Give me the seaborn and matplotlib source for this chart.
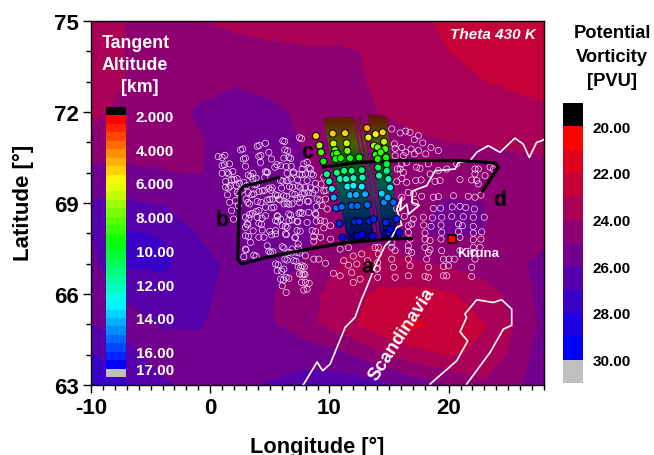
import numpy as np
import pandas as pd
import matplotlib
matplotlib.use("Agg")
import matplotlib.pyplot as plt
import seaborn as sns
from matplotlib.colors import LinearSegmentedColormap, ListedColormap, BoundaryNorm, Normalize
from matplotlib.path import Path
from matplotlib.patches import PathPatch
from matplotlib.ticker import MultipleLocator

# ---------- potential vorticity field ----------
pv_lons = [-10, -7, -4, -1, 2, 5, 8, 11, 14, 17, 20, 23, 26, 28]
pv_lats = [75, 74, 73, 72, 71, 70, 69, 68, 67, 66, 65, 64, 63]
pv_75 = [23.5, 24.02, 24.3, 24.0, 23.8, 23.6, 23.5, 23.4, 23.2, 23.1, 22.9, 22.6, 22.5, 22.5]
pv_74 = [23.5, 24.02, 24.4, 24.4, 24.3, 24.2, 24.1, 24.1, 23.9, 23.5, 23.0, 22.7, 22.6, 22.5]
pv_73 = [23.6, 24.02, 24.5, 24.7, 24.9, 24.7, 24.4, 24.2, 23.9, 23.6, 23.3, 23.0, 22.85, 22.8]
pv_72 = [23.8, 24.2, 24.6, 25.1, 25.4, 25.2, 24.8, 24.4, 24.0, 23.8, 23.6, 23.4, 23.2, 23.1]
pv_71 = [24.3, 24.6, 24.8, 24.9, 25.4, 25.4, 24.9, 24.5, 24.3, 24.1, 24.0, 23.95, 23.9, 23.9]
pv_70 = [25.3, 25.15, 25.02, 24.95, 25.3, 25.4, 25.1, 24.7, 24.5, 24.4, 24.4, 24.3, 24.2, 24.1]
pv_69 = [26.1, 26.1, 25.9, 25.6, 25.5, 25.5, 25.2, 24.7, 24.6, 24.8, 25.1, 25.0, 24.6, 24.4]
pv_68 = [26.0, 27.1, 26.9, 25.95, 25.7, 25.5, 25.2, 24.3, 24.2, 24.9, 25.15, 25.0, 24.6, 24.8]
pv_67 = [25.7, 27.1, 27.25, 26.3, 25.8, 25.4, 24.9, 23.9, 23.6, 23.8, 24.1, 24.5, 24.9, 25.2]
pv_66 = [25.6, 26.1, 26.4, 26.2, 25.7, 25.05, 24.4, 23.4, 22.85, 22.7, 22.85, 23.5, 24.5, 25.4]
pv_65 = [26.0, 25.7, 26.05, 26.1, 25.5, 25.1, 24.3, 23.4, 22.4, 21.7, 22.4, 22.95, 24.2, 25.3]
pv_64 = [27.05, 26.2, 25.7, 25.5, 25.4, 25.4, 25.6, 25.25, 24.2, 23.4, 22.9, 23.15, 24.5, 25.6]
pv_63 = [27.9, 27.1, 26.1, 25.8, 25.6, 26.1, 26.4, 26.5, 26.3, 25.6, 25.0, 24.2, 24.8, 26.0]
pv_rows = [pv_75, pv_74, pv_73, pv_72, pv_71, pv_70, pv_69, pv_68, pv_67, pv_66, pv_65, pv_64, pv_63]

pv_levels = [20, 21, 22, 23, 24, 25, 26, 27, 28, 29, 30]
pv_ticks = [20, 22, 24, 26, 28, 30]
pv_bar = [19.5, 20.5, 21.5, 22.5, 23.5, 24.5, 25.5, 26.5, 27.5, 28.5, 29.5, 30.5]

# ---------- open circles: tangent points outside the flight track ----------
ring_lon_left = [.67,1.23,2.54,3.94,4.64,6.09,7.49,
 1.0,1.62,2.79,4.08,4.92,4.22,5.14,6.26,6.59,6.18,
 1.0,1.43,1.9,2.96,5.42,4.64,3.58,3.19,5.9,6.79,6.37,6.96,6.45,7.85,8.13,7.71,8.41,
 1.29,1.79,2.26,3.58,4.58,5.9,6.79,6.45,7.99,8.49,7.71,8.13,7.32,
 1.29,1.7,2.18,2.82,3.74,5.98,6.65,7.38,7.99,8.83,9.53,
 1.45,2.26,2.68,3.19,3.66,4.36,4.92,5.48,6.18,6.87,7.71,8.27,8.83,9.53,
 1.62,2.12,3.02,3.3,3.94,4.78,5.25,5.76,6.87,7.57,8.27,8.97,9.67,
 2.35,1.79,3.52,4.08,5.34,4.64,6.45,7.49,8.27,9.39,9.81,
 2.96,3.94,4.64,5.62,6.59,7.57,8.83,
 1.96,3.1,4.08,5.48,6.87,8.13,9.25,5.9,7.29,
 2.96,4.36,5.48,6.04,6.45,7.29,8.55,9.53,10.09,
 2.96,4.08,4.5,5.48,6.31,7.15,8.69,9.25,10.09,
 3.38,4.78,6.04,7.38,8.69,
 2.96,4.92,6.18,6.87,7.38,
 2.82,3.66,5.06,6.59,7.29,7.99,
 5.48,6.26,7.01,7.71,8.69,9.11,9.67,
 5.62,6.18,7.38,
 5.9,6.37,7.49,7.85,
 6.04,7.66,7.99,
 6.37,7.85,8.13]
ring_lat_left = [70.53,70.57,70.75,70.87,70.97,71.05,71.15,
 70.23,70.29,70.45,70.54,70.67,70.34,70.45,70.75,70.5,70.48,
 69.98,70.01,70.04,70.21,70.18,70.03,69.98,69.92,70.23,70.21,70.2,69.99,69.98,70.29,70.34,70.12,70.12,
 69.71,69.76,69.8,69.79,69.85,69.74,69.79,69.74,69.96,69.96,69.93,69.74,69.76,
 69.52,69.56,69.57,69.68,69.6,69.49,69.54,69.56,69.52,69.65,69.85,
 69.27,69.35,69.43,69.35,69.3,69.4,69.49,69.27,69.24,69.3,69.3,69.35,69.43,69.4,
 69.02,69.08,69.13,68.97,69.05,69.1,69.13,69.13,68.97,69.19,69.05,69.13,69.13,
 68.91,68.75,68.66,68.75,68.86,68.86,68.99,69.02,68.69,68.91,68.8,
 68.53,68.53,68.58,68.58,68.64,68.69,68.66,
 68.47,68.31,68.33,68.42,68.44,68.36,68.42,68.47,68.4,
 68.2,68.11,68.09,68.25,68.2,68.09,68.09,68.18,68.25,
 67.92,67.87,67.87,67.98,67.98,67.87,67.89,67.87,67.81,
 67.7,67.59,67.56,67.65,67.74,
 67.48,67.41,67.52,67.48,67.52,
 67.23,67.28,67.37,67.37,67.37,67.26,
 66.99,67.15,67.1,66.93,67.15,67.15,67.01,
 66.77,66.82,66.9,
 66.49,66.55,66.66,66.66,
 66.27,66.38,66.38,
 66.05,66.13,66.16]
ring_lon_pairs = [1.0,2.72,4.1,6.25,7.66,1.2,2.95,4.25,6.5,6.75,8.3,1.55,3.4,4.8,5.6,7.0,
 2.0,3.85,4.75,6.1,7.5,8.65,1.55,2.45,3.05,3.9,4.55,5.2,6.9,7.55,8.4,9.3,2.4,3.5,4.1,5.1,5.65,
 6.4,7.1,7.9,8.6,9.7,3.15,4.25,5.0,5.85,6.6,7.3,8.15,9.2,3.3,3.85,5.15,6.2,7.75,8.9,3.25,4.35,
 5.65,6.75,7.45,8.85,9.6,3.15,4.3,5.65,6.6,7.35,8.9,3.6,5.0,6.3,7.55,8.85,3.2,5.15,6.4,7.1,
 3.0,3.85,5.25,6.8,7.5,5.7,6.45,7.2,7.9,6.0,7.6,6.15,7.7,6.6,7.95,8.3]
ring_lat_pairs = [70.5,70.78,70.9,71.03,71.12,70.26,70.48,70.57,70.72,70.47,70.15,69.96,69.88,70.0,70.26,70.02,
 69.78,69.82,70.02,69.72,69.95,69.92,69.5,69.65,69.57,69.62,69.42,69.5,69.52,69.52,69.5,69.62,69.3,69.28,69.38,69.42,69.25,
 69.22,69.28,69.32,69.33,69.42,69.02,69.02,69.12,69.1,68.96,69.15,69.06,69.1,68.62,68.72,68.84,68.97,68.66,68.88,68.5,68.5,
 68.55,68.6,68.66,68.62,68.4,68.28,68.3,68.4,68.42,68.38,68.4,68.08,68.07,68.23,68.07,68.06,67.9,67.95,67.96,67.85,
 67.45,67.25,67.39,67.35,67.35,66.96,67.12,67.08,66.9,66.75,66.88,66.46,66.63,66.52,66.64,66.35]
ring_lon_right = [15.23,15.93,16.4,16.76,17.46,17.13,17.83,18.52,
 15.45,16.07,16.85,17.46,18.08,19.14,15.51,16.4,17.13,16.2,15.51,
 16.07,16.48,17.32,17.6,18.3,15.7,16.2,15.93,19.14,19.84,20.68,22.21,22.49,23.47,23.75,22.21,23.05,18.44,
 15.65,16.48,17.24,17.69,18.86,19.28,20.95,21.93,22.35,22.49,16.07,16.62,
 16.07,17.04,17.74,18.72,19.14,20.4,21.65,22.21,22.71,
 15.65,17.18,18.72,19.33,20.31,20.95,21.43,22.16,
 16.29,17.04,17.88,18.64,19.42,20.26,21.23,22.07,22.99,
 16.62,16.9,17.91,18.52,19.36,20.82,21.15,22.07,
 16.62,18.02,19.42,20.82,22.07,22.77,
 14.11,15.23,16.76,18.02,18.44,19.36,20.95,22.07,22.71,
 14.11,15.23,16.62,18.02,18.44,19.42,22.07,22.63,
 14.05,15.51,16.62,16.9,18.3,20.95,22.07,
 14.05,15.23,16.62,18.16,19.56,20.03,20.48,22.21,
 14.05,15.37,16.76,18.3,19.56,19.98,21.93,
 15.51,16.62,18.02,18.3,19.56,19.84,21.93,
 10.34,10.9,11.87,12.0,12.57,11.6,12.3,10.9,11.6,12.71,13.83,12.0,11.2,13.2,13.97]
ring_lat_right = [71.44,71.31,71.37,71.33,71.22,71.09,70.98,70.83,
 70.95,70.83,70.78,70.73,70.62,70.73,70.8,70.67,70.62,70.56,70.56,
 70.29,70.34,70.18,70.14,70.29,70.12,70.01,70.12,70.07,70.12,70.29,70.12,70.12,70.18,70.12,69.96,69.9,69.96,
 69.7,69.68,69.74,69.76,69.71,69.74,69.77,69.76,69.74,69.63,69.81,69.35,
 69.19,69.3,69.22,69.19,69.21,69.24,69.22,69.19,69.26,
 68.82,69.02,68.82,68.83,68.87,68.89,68.85,68.8,
 68.56,68.47,68.53,68.51,68.53,68.56,68.55,68.53,68.53,
 68.25,68.31,68.27,68.23,68.27,68.31,68.25,68.23,
 68.03,68.01,68.03,68.06,68.01,68.05,
 67.54,67.7,67.81,67.81,67.76,67.81,67.87,67.79,67.81,
 67.32,67.54,67.59,67.54,67.46,67.43,67.54,67.54,
 67.04,67.43,67.43,67.37,67.37,67.43,67.37,
 66.85,67.15,67.15,67.15,67.15,67.15,67.15,67.15,
 66.55,66.88,66.93,66.88,66.91,66.93,66.88,
 66.55,66.6,66.58,66.55,66.6,66.6,66.58,
 66.68,66.6,66.71,66.38,66.49,66.95,66.99,67.48,67.53,67.32,67.53,67.25,67.1,67.1,66.82]

# ---------- coloured tangent points ----------
tp_lon = [8.88,9.16,9.3,9.5,9.78,9.97,10.2,10.36,10.56,11.03,10.84,11.09,
 10.28,11.31,10.34,11.45,10.48,11.51,10.39,10.62,10.53,10.95,11.73,12.5,
 10.62,11.23,11.87,12.71,10.89,11.4,12.01,12.77,11.51,12.01,12.71,11.73,12.24,12.99,
 11.87,12.35,13.19,12.15,12.51,13.35,13.69,12.38,12.71,13.63,
 13.16,13.88,14.47,13.27,13.74,14.58,14.05,14.67,13.88,14.3,14.05,14.75,
 14.08,14.81,14.16,14.81,14.95,14.39,15.09,14.58,14.89,15.37,14.75,15.64,14.95,15.14,15.87]
tp_lat = [71.21,70.9,70.67,70.37,69.95,69.71,69.47,69.18,68.83,68.87,68.32,67.86,
 71.29,71.3,70.96,70.97,70.74,70.72,70.61,70.63,70.45,70.48,70.48,70.5,
 70.0,70.06,70.06,70.08,69.79,69.79,69.82,69.84,69.54,69.57,69.54,69.26,69.27,69.29,
 68.9,68.9,68.94,68.38,68.39,68.41,68.47,67.91,67.95,67.91,
 71.47,71.27,71.33,71.16,70.89,71.02,70.83,70.78,70.59,70.67,70.45,70.5,
 70.17,70.28,69.9,70.06,69.79,69.31,69.51,69.02,69.18,69.02,68.36,68.47,68.03,68.14,68.03]
tp_alt = [5.3,7,8,9.5,11,12.3,13.3,14.2,15,15,16,16.5,
 5,5,6.8,6.8,7.8,7.8,8.5,8.5,9.2,9.2,9.3,9.3,
 11,11,11,11,12,12,12,12,13,13,13,14,14,14,
 15,15,15,16,16,16,16,16.5,16.5,16.5,
 4.5,5.5,5.2,6,7.3,6.8,7.8,8,8.6,8.5,9.4,9.4,
 10.5,10.3,11.5,11,12.3,13.6,13.3,14.8,14.3,15,16,16,16.5,16.5,16.5]

# altitude bar
alt_tick_pos = [1, 5, 9, 13, 17, 21, 25, 29, 31]
alt_tick_lab = ["2.000", "4.000", "6.000", "8.000", "10.00", "12.00", "14.00", "16.00", "17.00"]

# dense limb-scan curtains: altitude versus latitude and outlines
curtain_lat = [72.0, 71.5, 71.0, 70.5, 70.0, 69.5, 69.0, 68.5, 68.0, 67.6]
curtain_alt = [2.5, 4.0, 6.0, 8.5, 11.0, 12.8, 14.3, 15.3, 16.2, 17.0]
curtain_lon_edges = [9.0, 16.0]
band_a = [(9.5, 71.8), (11.96, 71.84), (13.83, 67.86), (11.59, 67.73)]
band_s1 = [(12.15, 71.71), (12.29, 71.71), (14.19, 67.86), (14.05, 67.86)]
band_s2 = [(12.52, 71.82), (12.65, 71.82), (14.47, 67.86), (14.33, 67.86)]
band_b = [(13.27, 71.93), (14.81, 71.84), (15.78, 67.86), (14.47, 67.81)]

# flight-track outline
track_ab_lon = [5.87, 2.79, 2.51, 2.29, 2.65, 4.75, 7.54, 11.18, 14.81, 17.04]
track_ab_lat = [69.85, 69.55, 69.41, 67.15, 66.99, 67.21, 67.43, 67.68, 67.81, 67.84]
track_cd_lon = [9.36, 12.57, 15.93, 20.96, 23.89, 24.17, 22.77]
track_cd_lat = [70.18, 70.34, 70.4, 70.4, 70.32, 70.18, 69.35]

# coastlines
coast1_lon = [28.0, 27.8, 27.38, 26.77, 26.26, 25.56, 24.31, 23.33, 22.35, 21.79, 20.82, 20.54, 18.86, 18.16,
              16.99, 16.9, 17.55, 16.63, 16.49, 15.93, 16.07, 15.65, 16.07, 15.65, 15.09, 14.67, 13.97, 13.0,
              12.7, 12.15, 11.32, 10.06, 9.44, 9.22, 8.97, 7.8]
coast1_lat = [71.1, 71.05, 71.0, 70.5, 70.94, 71.14, 70.67, 70.89, 70.67, 70.39, 70.34, 70.12, 70.06, 69.57,
              69.4, 69.02, 68.93, 68.63, 68.96, 68.75, 69.19, 68.8, 68.27, 68.2, 67.76, 67.59, 67.04, 66.1,
              65.83, 65.23, 64.9, 63.69, 63.47, 63.6, 63.76, 63.0]
coast2_lon = [18.44, 20.68, 21.6, 20.96, 21.51, 21.37, 22.35, 23.75, 24.45, 25.29, 25.29, 24.59, 23.47, 21.51]
coast2_lat = [63.03, 63.8, 64.45, 64.75, 65.23, 65.34, 65.81, 65.72, 65.81, 65.5, 64.97, 64.84, 64.07, 63.03]

kiruna_lon, kiruna_lat = [20.28], [67.81]

x_ticks = [-10, 0, 10, 20]
y_ticks = [63, 66, 69, 72, 75]

# ---------- style ----------
sns.set_theme(style="ticks")
plt.rcParams["font.family"] = ["Liberation Sans", "DejaVu Sans"]
plt.rcParams["font.weight"] = "bold"
plt.rcParams["axes.unicode_minus"] = False
W, H = 654, 456


def px_axes(x0, y0, x1, y1):
    return fig.add_axes([x0 / W, 1 - y1 / H, (x1 - x0) / W, (y1 - y0) / H])


fig = plt.figure(figsize=(W / 100, H / 100), dpi=100, facecolor="white")
ax = px_axes(91, 22, 544, 386)

# PV field
pv_cmap = LinearSegmentedColormap.from_list("pv", ["#ff0000", "#0000ff"], N=10)
pv_cmap.set_under("#000000")
pv_cmap.set_over("#c0c0c0")
pv_norm = BoundaryNorm(pv_levels, pv_cmap.N)
ax.contourf(pv_lons, pv_lats, np.array(pv_rows), levels=pv_levels, cmap=pv_cmap, norm=pv_norm, extend="both")

# altitude colours
alt_cmap = LinearSegmentedColormap.from_list("alt", ["#ff0000", "#ffff00", "#00ff00", "#00ffff", "#0000ff"], N=30)
alt_norm = Normalize(2, 17)

# dark limb-scan curtains
dark = alt_cmap(np.arange(30)) * np.array([0.36, 0.36, 0.36, 1.0])
mesh = ax.pcolormesh(curtain_lon_edges, curtain_lat, np.column_stack([curtain_alt, curtain_alt]),
                     cmap=ListedColormap(dark), norm=alt_norm, shading="gouraud", zorder=2)
verts, codes = [], []
for poly in (band_a, band_s1, band_s2, band_b):
    verts += list(poly) + [poly[0]]
    codes += [Path.MOVETO] + [Path.LINETO] * (len(poly) - 1) + [Path.CLOSEPOLY]
clip = PathPatch(Path(verts, codes), transform=ax.transData, facecolor="none", edgecolor="none")
ax.add_patch(clip)
mesh.set_clip_path(clip)

# open rings
rings = pd.DataFrame({"lon": ring_lon_left + ring_lon_pairs + ring_lon_right,
                      "lat": ring_lat_left + ring_lat_pairs + ring_lat_right})
sns.scatterplot(data=rings, x="lon", y="lat", s=20, color="white", edgecolor="#f4e4f4",
                linewidth=0.5, legend=False, ax=ax, zorder=3)
ax.collections[-1].set_facecolor("none")

# coastlines
for lo, la in ((coast1_lon, coast1_lat), (coast2_lon, coast2_lat)):
    sns.lineplot(x=lo, y=la, sort=False, estimator=None, color="white", linewidth=1.2, ax=ax, zorder=4)

# flight track
for lo, la in ((track_ab_lon, track_ab_lat), (track_cd_lon, track_cd_lat)):
    sns.lineplot(x=lo, y=la, sort=False, estimator=None, color="black", linewidth=2.3, ax=ax, zorder=5,
                 solid_joinstyle="round", solid_capstyle="butt")

# coloured tangent points
tp = pd.DataFrame({"lon": tp_lon, "lat": tp_lat, "alt": tp_alt})
sns.scatterplot(data=tp, x="lon", y="lat", hue="alt", hue_norm=alt_norm, palette=alt_cmap, s=26,
                edgecolor="black", linewidth=0.7, legend=False, ax=ax, zorder=6)

# Kiruna
sns.scatterplot(x=kiruna_lon, y=kiruna_lat, marker="s", s=36, color="#ff0000", edgecolor="black",
                linewidth=1.1, legend=False, ax=ax, zorder=6)

# axes
ax.set_xlim(-10, 28)
ax.set_ylim(63, 75)
ax.set_xticks(x_ticks)
ax.set_yticks(y_ticks)
ax.xaxis.set_minor_locator(MultipleLocator(1))
ax.yaxis.set_minor_locator(MultipleLocator(1))
ax.tick_params(axis="both", which="major", direction="out", length=6, width=1, labelsize=16, pad=3, color="black")
ax.tick_params(axis="both", which="minor", direction="out", length=3.5, width=1, color="black")
for lab in ax.get_xticklabels() + ax.get_yticklabels():
    lab.set_fontweight("bold")
    lab.set_color("black")
for s in ax.spines.values():
    s.set_linewidth(1)
    s.set_color("black")
    s.set_visible(True)
ax.set_xlabel("")
ax.set_ylabel("")
fig.text(317 / W, 1 - 447 / H, "Longitude [°]", ha="center", va="center", fontsize=15.7, fontweight="bold", color="black")
fig.text(23 / W, 1 - 203 / H, "Latitude [°]", ha="center", va="center", rotation=90, fontsize=16, fontweight="bold", color="black")

# in-plot labels
ax.text(27.3, 74.57, "Theta 430 K", ha="right", va="center", color="white", fontsize=11, style="italic", fontweight="bold")
ax.text(20.7, 67.36, "Kiruna", ha="left", va="center", color="white", fontsize=9.5, fontweight="bold", zorder=7)
ax.text(16.1, 64.68, "Scandinavia", ha="center", va="center", rotation=57, rotation_mode="anchor",
        color="white", fontsize=13.2, fontweight="bold", zorder=7)
for s, lo, la in (("a", 13.16, 66.9), ("b", 1.0, 68.44), ("c", 8.13, 70.7), ("d", 24.3, 69.13)):
    ax.text(lo, la, s, ha="center", va="center", color="black", fontsize=15.5, fontweight="bold", zorder=7)

# altitude legend inside the map
for s, x, y in (("Tangent", 102, 43), ("Altitude", 102, 65), ("[km]", 121, 88)):
    fig.text(x / W, 1 - y / H, s, ha="left", va="center", color="white", fontsize=12.8, fontweight="bold", zorder=10)
alt_bar_cmap = ListedColormap(["#000000"] + [alt_cmap(i) for i in range(30)] + ["#c0c0c0"])
cax1 = px_axes(106, 108, 126, 378)
cax1.patch.set_alpha(0)
cax1.set_zorder(5)
sns.heatmap(np.arange(32)[:, None], cmap=alt_bar_cmap, cbar=False, xticklabels=False, yticklabels=False, ax=cax1)
cax1.yaxis.tick_right()
cax1.set_yticks(alt_tick_pos)
cax1.set_yticklabels(alt_tick_lab, rotation=0, color="white", fontsize=11, fontweight="bold")
cax1.tick_params(axis="y", length=0, pad=7)

# PV colour bar
for s, y in (("Potential", 33), ("Vorticity", 57), ("[PVU]", 82)):
    fig.text(612 / W, 1 - y / H, s, ha="center", va="center", color="black", fontsize=13.2, fontweight="bold")
cax2 = px_axes(563, 104, 583, 384)
sns.heatmap(np.array(pv_bar)[:, None], cmap=pv_cmap, norm=pv_norm, cbar=False, xticklabels=False, yticklabels=False, ax=cax2)
cax2.yaxis.tick_right()
cax2.set_yticks([1, 3, 5, 7, 9, 11])
cax2.set_yticklabels([f"{v:.2f}" for v in pv_ticks], rotation=0, color="black", fontsize=11, fontweight="bold")
cax2.tick_params(axis="y", length=0, pad=7)

fig.savefig("out.png", dpi=100, facecolor="white")
